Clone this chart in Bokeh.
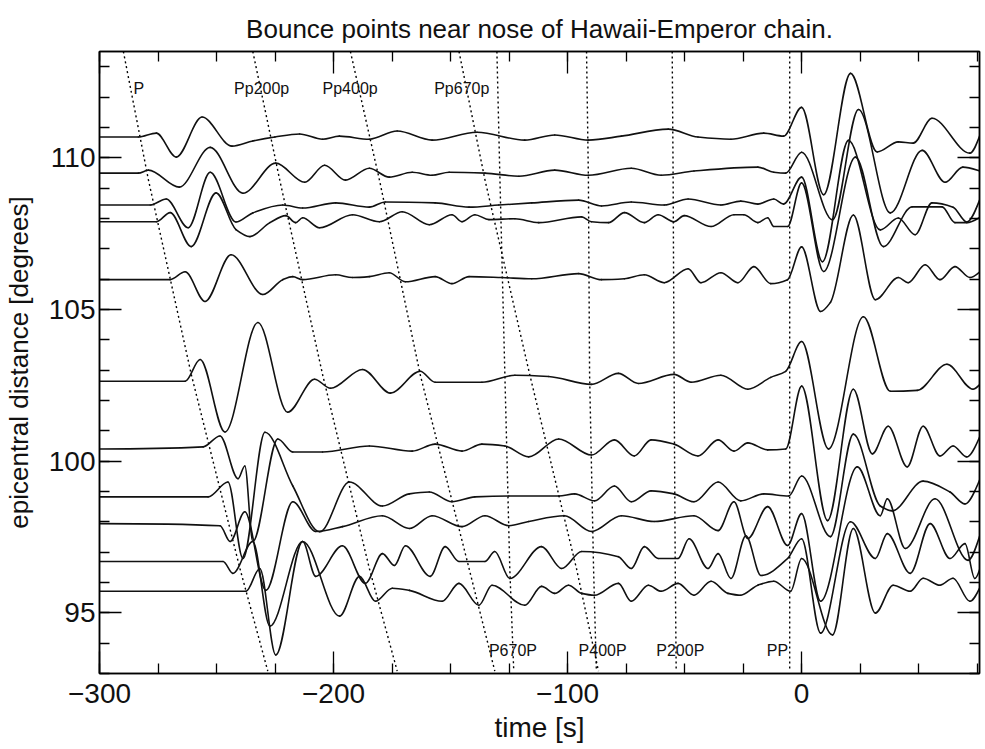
from bokeh.plotting import figure
from bokeh.models import LinearAxis, SingleIntervalTicker
from bokeh.embed import file_html
from bokeh.resources import INLINE
from bokeh.core.properties import value

FONT = "Liberation Sans"

# ---------------- data ----------------
# baseline epicentral distance of each seismogram [degrees]
trace_distance = [110.68, 109.49, 108.44, 107.89, 105.98, 102.63, 100.40, 98.82, 97.94, 96.69, 95.71]

# time [s] and deflection [degrees] for each trace
tr1_time = [-300, -283.4, -275.7, -267.2, -256.2, -243.4, -234.5, -225.1, -214.5, -204.7, -197.5, -184.7, -172.8, -157.9, -138.7, -118.3, -105.5, -91.1, -77.0, -57.0, -44.3, -30.2, -16.2, -7.7, 0, 9.4, 20.9, 32.3, 41.3, 47.7, 55.7, 71.9, 78.3]
tr1_amp = [0, 0, 0.13, -0.66, 0.66, -0.30, -0.13, 0, 0.10, -0.07, 0.03, -0.07, 0.20, -0.10, 0.16, -0.10, 0.07, -0.10, 0.03, 0.26, 0, -0.07, 0.13, 0.03, 0.98, -1.90, 2.10, -0.49, -0.16, -0.20, 0.62, -0.53, 0.46]

tr2_time = [-300, -283.4, -279.1, -265.9, -252.7, -238.7, -224.7, -212.3, -203.8, -194.9, -184.7, -176.2, -166.4, -157.9, -150.6, -135.3, -120.8, -105.5, -91.1, -72.8, -60.0, -46.0, -18.7, -11.9, -6.8, 0, 13.2, 24.3, 37.9, 51.5, 61.3, 68.9, 78.3]
tr2_amp = [0, 0, 0.10, -0.46, 0.85, -0.66, 0.33, -0.30, 0.26, -0.23, 0.16, -0.13, 0.03, -0.07, 0.03, 0, -0.10, 0.10, -0.07, 0.16, -0.07, 0.07, 0.20, 0.03, 0, 0.69, -1.54, 2.10, -1.31, 0.75, -0.30, 0.20, 0.03]

tr3_time = [-300, -278.3, -271.5, -262.1, -252.7, -241.7, -234.5, -221.7, -213.2, -199.1, -184.7, -177.9, -156.6, -142.1, -129.4, -115.3, -95.3, -85.5, -72.8, -58.7, -48.5, -34.5, -26.0, -18.7, -11.9, -7.7, 0, 8.9, 20.0, 33.6, 41.3, 48.5, 55.7, 64.7, 70.6, 78.3]
tr3_amp = [0, 0, 0.20, -0.75, 1.08, -0.56, -0.26, 0, -0.10, 0.07, -0.07, 0.10, 0.07, -0.07, 0, 0.07, 0.16, -0.03, 0.10, 0, 0.20, 0, 0.13, 0.03, 0.20, 0.03, 0.92, -1.87, 2.13, -0.82, -0.43, -0.98, 0.07, -0.07, -0.56, 0.56]

tr4_time = [-300, -275.7, -269.8, -260.8, -250.2, -241.7, -235.7, -227.2, -220.4, -216.2, -213.2, -205.9, -191.9, -180.4, -170.6, -159.1, -149.4, -145.1, -139.6, -133.6, -122.5, -112.3, -94.0, -89.8, -82.5, -75.7, -67.2, -61.3, -54.5, -50.2, -38.7, -28.9, -24.7, -18.7, -14.5, -11.9, -6.0, 0, 9.4, 23.0, 34.9, 47.2, 60.0, 65.5, 70.6, 78.3]
tr4_amp = [0, 0, 0.30, -0.82, 0.95, -0.26, -0.49, -0.03, 0.20, -0.03, 0.13, -0.20, 0.23, 0, 0.33, -0.10, 0.23, 0, 0.23, 0.07, 0.10, -0.03, 0.16, 0, -0.03, 0.30, -0.03, 0.23, 0, 0.20, -0.16, 0.23, 0.23, -0.03, 0.13, -0.16, -0.16, 1.28, -1.64, 2.13, -0.82, 0.49, 0.49, -0.03, -0.03, 0.23]

tr5_time = [-300, -269.8, -263.4, -254.9, -243.8, -230.2, -221.7, -217.4, -213.2, -199.1, -191.9, -184.7, -176.2, -169.3, -156.6, -149.4, -142.1, -128.1, -115.3, -95.3, -85.5, -75.7, -67.2, -58.7, -48.5, -43.0, -34.5, -27.2, -20.4, -13.2, -6.0, 0, 8.1, 12.3, 22.1, 31.5, 41.3, 45.5, 52.8, 59.1, 65.5, 71.9, 78.3]
tr5_amp = [0, 0, 0.26, -0.72, 0.82, -0.49, 0, 0.10, 0, 0.16, 0.07, 0.10, 0.23, -0.07, 0.10, -0.13, 0.10, 0.07, 0.03, 0.20, 0, 0.03, 0.16, -0.10, 0.36, -0.10, 0.23, -0.10, 0.43, -0.13, 0, 1.08, -1.05, -0.75, 2.13, -0.66, 0.07, -0.10, 0.49, 0, 0.43, 0.07, 0.39]

tr6_time = [-300, -263.4, -257.0, -246.4, -232.3, -219.6, -208.1, -201.3, -187.6, -175.7, -163.0, -156.6, -136.6, -122.5, -108.1, -89.8, -78.3, -69.8, -54.5, -47.2, -34.5, -23.0, -13.2, -6.8, 0, 11.5, 26.4, 37.9, 49.4, 62.1, 73.2, 78.3]
tr6_amp = [0, 0, 0.72, -1.67, 1.94, -1.02, 0.07, -0.23, 0.39, -0.39, 0.33, -0.03, -0.03, 0.20, 0.16, -0.10, 0.26, -0.07, 0.23, -0.03, 0.20, -0.26, 0.13, 0.33, 1.31, -2.23, 2.13, -0.33, -0.30, 0.56, -0.26, 0.07]

tr7_time = [-300, -255.7, -248.5, -240.8, -237.9, -234.5, -223.8, -217.4, -204.7, -184.7, -166.4, -156.6, -145.1, -136.6, -126.8, -116.6, -103.8, -89.8, -80.0, -71.5, -64.3, -54.5, -44.3, -35.7, -28.9, -23.0, -14.5, -6.8, 0, 11.1, 22.1, 30.2, 37.0, 45.1, 51.9, 59.1, 64.7, 70.6, 78.3]
tr7_amp = [0, 0.07, 0.43, -0.98, -0.56, -3.05, 0.33, -0.10, -0.10, 0.10, -0.07, 0.16, -0.07, 0.16, 0.10, -0.26, 0.33, -0.20, 0.30, -0.23, 0.30, 0.16, -0.23, 0.30, -0.07, 0.20, -0.03, 0, 2.07, -2.36, 1.97, -0.16, 0.75, -0.59, 0.75, -0.23, 0.10, -0.26, 0.75]

tr8_time = [-300, -253.6, -245.1, -238.7, -229.3, -217.4, -205.9, -193.2, -179.1, -167.6, -159.1, -149.4, -139.6, -125.1, -103.8, -97.0, -88.5, -80.0, -72.8, -64.3, -54.5, -46.0, -35.7, -26.0, -16.2, -5.5, 0, 12.3, 22.1, 33.6, 38.7, 51.9, 63.4, 69.8, 78.3]
tr8_amp = [0, 0, 0.49, -2.03, 2.13, 0.36, -1.15, 0.49, -0.30, 0.10, 0.16, -0.16, 0, 0.03, 0.03, 0.10, -0.13, 0.36, -0.16, 0.20, 0.10, -0.16, 0.49, -0.13, 0.10, 0.03, 0.69, -1.31, 2.07, -0.30, -0.46, 0.52, 0.16, -0.23, 0.92]

tr9_time = [-300, -248.5, -244.2, -237.9, -228.9, -217.4, -207.6, -196.2, -179.1, -167.6, -157.9, -145.1, -135.3, -125.1, -116.6, -101.3, -89.8, -77.0, -63.0, -46.0, -35.7, -28.9, -23.0, -14.5, -6.0, 0, 8.1, 23.8, 33.6, 36.6, 44.3, 57.0, 71.1, 78.3]
tr9_amp = [0, -0.07, -0.59, 0.39, -2.20, 0.72, -0.26, -0.10, 0.26, -0.16, 0.26, -0.10, 0.26, -0.07, 0.07, 0.26, -0.26, 0.26, 0.07, 0.26, -0.23, 0.72, -0.49, 0.56, -0.72, 0.33, -2.56, 1.87, 0.26, 0.82, -0.82, 0.82, -1.21, 0.07]

tr10_time = [-300, -247.2, -243.0, -234.5, -227.2, -213.2, -207.6, -196.2, -186.4, -179.1, -174.0, -169.3, -158.7, -152.3, -146.4, -135.3, -131.1, -124.7, -111.1, -102.5, -94.0, -78.3, -72.8, -67.2, -61.3, -52.8, -48.1, -40.0, -35.7, -30.2, -23.8, -17.4, -6.0, 0, 8.1, 20.9, 31.5, 36.6, 46.4, 54.9, 63.4, 69.8, 74.0, 78.3]
tr10_amp = [0, 0, -0.39, 0.66, -2.13, 0.66, -0.49, 0.52, -0.72, 0.26, -0.13, 0.52, -0.49, 0.49, 0, 0, 0.33, -0.56, 0.49, -0.23, 0.33, 0.16, -0.23, 0.49, 0.10, 0.10, 0.75, -0.23, 0.26, -0.56, 0.85, -0.46, 0.10, 0.75, -2.36, 1.31, 0.10, 0.92, -0.39, 1.25, 0.10, 0.59, -0.56, 0.26]

tr11_time = [-300, -237.4, -231.5, -224.7, -213.2, -197.4, -188.9, -182.1, -174.9, -167.6, -153.6, -146.4, -137.9, -132.3, -118.3, -111.1, -105.5, -99.6, -94.0, -88.5, -78.3, -72.8, -65.5, -60.0, -52.8, -46.0, -38.7, -31.5, -26.0, -18.7, -11.9, -4.7, 0, 13.2, 22.1, 31.5, 39.1, 46.4, 51.9, 59.1, 64.7, 71.9, 78.3]
tr11_amp = [0, 0, 0.75, -2.10, 1.64, -0.82, 0.49, -0.33, 0.10, 0.03, -0.33, 0.26, -0.46, 0.20, -0.46, 0.16, -0.07, 0.20, -0.07, -0.13, 0.26, -0.33, 0.20, 0, 0.26, -0.13, 0.33, -0.07, -0.13, 0.20, 0.33, 0, 1.08, -1.44, 2.07, -0.72, 0.20, 0, 0.43, 0.20, 0.43, -0.33, 0.43]

# predicted travel-time curves: distance samples and arrival times [s]
curve_distance = [113.5, 109.27, 102.86, 96.46, 93.08]
P_time = [-289.8, -279.1, -260.8, -240.0, -228.1]
Pp200p_time = [-234.5, -223.0, -204.7, -184.7, -172.8]
Pp400p_time = [-192.8, -180.4, -163.0, -142.1, -131.1]
Pp670p_time = [-146.4, -135.3, -116.2, -96.2, -86.8]
P670P_time = [-130.2, -128.9, -126.8, -124.7, -123.0]
P400P_time = [-91.9, -91.1, -90.6, -88.9, -87.7]
P200P_time = [-55.3, -54.9, -54.5, -54.0, -53.6]
PP_time = [-5.1, -5.1, -5.1, -5.1, -5.1]

# phase names and where their labels sit (time, distance)
phase_names = ["P", "Pp200p", "Pp400p", "Pp670p", "P670P", "P400P", "P200P", "PP"]
label_time = [-285.5, -242.5, -204.7, -157.0, -133.6, -95.3, -62.1, -14.9]
label_distance = [112.29, 112.29, 112.29, 112.29, 93.77, 93.77, 93.77, 93.77]

x_ticks_major = 100
y_ticks_major = 5


# ---------- drawing helper: smooth (shape-preserving) curve through the read points ----------
def smooth_segments(xs, ys):
    n = len(xs)
    h = [xs[k + 1] - xs[k] for k in range(n - 1)]
    d = [(ys[k + 1] - ys[k]) / h[k] for k in range(n - 1)]
    s = [0.0] * n
    for k in range(1, n - 1):
        if d[k - 1] * d[k] <= 0:
            s[k] = 0.0
        else:
            w1 = 2 * h[k] + h[k - 1]
            w2 = h[k] + 2 * h[k - 1]
            s[k] = (w1 + w2) / (w1 / d[k - 1] + w2 / d[k])
    s[-1] = d[-1]
    seg = dict(x0=[], y0=[], x1=[], y1=[], cx0=[], cy0=[], cx1=[], cy1=[])
    for k in range(n - 1):
        seg["x0"].append(xs[k]); seg["y0"].append(ys[k])
        seg["x1"].append(xs[k + 1]); seg["y1"].append(ys[k + 1])
        seg["cx0"].append(xs[k] + h[k] / 3); seg["cy0"].append(ys[k] + s[k] * h[k] / 3)
        seg["cx1"].append(xs[k + 1] - h[k] / 3); seg["cy1"].append(ys[k + 1] - s[k + 1] * h[k] / 3)
    return seg


# ---------------- figure ----------------
p = figure(width=985, height=749, x_range=(-300, 76), y_range=(93, 113.5),
           output_backend="svg", toolbar_location=None,
           min_border_left=96, min_border_right=6, min_border_top=51, min_border_bottom=76,
           background_fill_color="white", border_fill_color="white")
p.xgrid.visible = False
p.ygrid.visible = False
p.outline_line_color = "black"
p.outline_line_width = 1.5

p.title.text = "Bounce points near nose of Hawaii-Emperor chain."
p.title.align = "center"
p.title.text_font = FONT
p.title.text_font_size = "26px"
p.title.text_font_style = "normal"
p.title.text_color = "#111111"
p.title.standoff = 16


def style_axis(ax, show_labels):
    ax.major_tick_in = 22
    ax.major_tick_out = 0
    ax.minor_tick_in = 10
    ax.minor_tick_out = 0
    ax.axis_line_width = 1.5
    ax.major_tick_line_width = 1.3
    ax.minor_tick_line_width = 1.3
    ax.axis_line_color = "black"
    ax.major_tick_line_color = "black"
    ax.minor_tick_line_color = "black"
    if show_labels:
        ax.major_label_text_font = FONT
        ax.major_label_text_font_size = "28px"
        ax.major_label_text_color = "#111111"
        ax.axis_label_text_font = FONT
        ax.axis_label_text_font_size = "28px"
        ax.axis_label_text_font_style = "normal"
        ax.axis_label_text_color = "#111111"
    else:
        ax.major_label_text_font_size = "1px"
        ax.major_label_text_color = None
        ax.major_label_standoff = 0


p.xaxis.ticker = SingleIntervalTicker(interval=x_ticks_major, num_minor_ticks=4)
p.yaxis.ticker = SingleIntervalTicker(interval=y_ticks_major, num_minor_ticks=5)
style_axis(p.xaxis[0], True)
style_axis(p.yaxis[0], True)
p.xaxis.axis_label = "time [s]"
p.yaxis.axis_label = "epicentral distance [degrees]"
p.yaxis.axis_label_text_font_size = "26px"
p.xaxis.major_label_standoff = 10
p.xaxis.axis_label_standoff = 6
p.yaxis.major_label_standoff = 4
p.yaxis.axis_label_standoff = 12
p.xaxis.major_label_overrides = {-300: "\u2212300", -200: "\u2212200", -100: "\u2212100"}

top_axis = LinearAxis(ticker=SingleIntervalTicker(interval=x_ticks_major, num_minor_ticks=4))
style_axis(top_axis, False)
p.add_layout(top_axis, "above")
right_axis = LinearAxis(ticker=SingleIntervalTicker(interval=y_ticks_major, num_minor_ticks=5))
style_axis(right_axis, False)
p.add_layout(right_axis, "right")

# travel-time curves
for tt in [P_time, Pp200p_time, Pp400p_time, Pp670p_time, P670P_time, P400P_time, P200P_time, PP_time]:
    p.line(tt, curve_distance, line_color="black", line_width=1.4, line_dash="2 3")

# seismograms
traces = [(tr1_time, tr1_amp), (tr2_time, tr2_amp), (tr3_time, tr3_amp), (tr4_time, tr4_amp),
          (tr5_time, tr5_amp), (tr6_time, tr6_amp), (tr7_time, tr7_amp), (tr8_time, tr8_amp),
          (tr9_time, tr9_amp), (tr10_time, tr10_amp), (tr11_time, tr11_amp)]
for base, (tt, aa) in zip(trace_distance, traces):
    seg = smooth_segments(tt, [base + a for a in aa])
    p.bezier(x0=seg["x0"], y0=seg["y0"], x1=seg["x1"], y1=seg["y1"],
             cx0=seg["cx0"], cy0=seg["cy0"], cx1=seg["cx1"], cy1=seg["cy1"],
             line_color="#111111", line_width=1.6, line_cap="round")

# phase labels
p.text(x=label_time, y=label_distance, text=phase_names, text_font=value(FONT),
       text_font_size="16px", text_color="#111111", text_baseline="alphabetic", text_align="left")

open("out.html", "w").write(file_html(p, INLINE))
